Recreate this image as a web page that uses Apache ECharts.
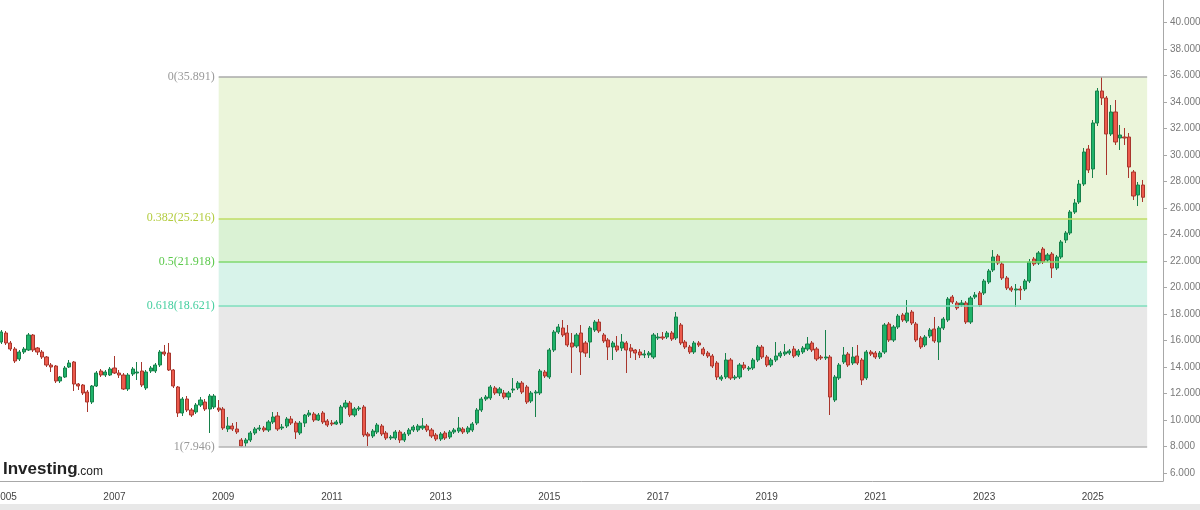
<!DOCTYPE html>
<html>
<head>
<meta charset="utf-8">
<script src="https://cdn.jsdelivr.net/npm/echarts@6/dist/echarts.min.js"></script>
<style>
  html, body { margin: 0; padding: 0; background: #fff; }
  #main { width: 1200px; height: 510px; }
</style>
</head>
<body>
<div id="main"></div>
<script>
// monthly candles, Dec 2004 .. Dec 2025
var open = [15876,16556,15801,15347,14592,15121,15272,16405,15423,15121,14743,14139,14063,12930,13232,13988,14365,12704,12628,12099,
  11344,12553,13686,13383,13383,13912,13535,13383,12326,13459,13535,13686,12401,13686,13686,14139,15121,15045,13761,12477,
  10513,11570,10740,10589,11117,11344,10815,10966,10891,10815,9305,9531,9305,8474,8248,8474,9003,9305,9380,9229,
  9833,10287,9380,9531,10060,9758,9003,9758,10362,10438,9984,10513,9909,9758,9682,9758,10966,11268,10362,10815,
  10966,8927,8776,9078,9531,9003,8625,8625,9078,8474,8927,9229,9229,9380,9531,9229,8852,8550,9003,8701,
  9078,9154,9305,9078,9229,9758,10740,11570,11646,12401,12024,12024,11722,12250,12401,12779,12477,11419,12024,12024,
  13610,13232,15272,16631,16934,16556,15801,15574,16556,15801,15876,16782,17386,16405,16027,15498,15574,15423,15801,15423,
  15272,15121,14894,14894,14743,16178,16254,16254,16556,16178,17160,15876,15498,15121,15801,15347,15045,14819,14290,13081,
  13232,14516,13157,13232,14139,13837,13912,14516,15498,14743,14139,14516,14819,14970,15045,15347,14894,15121,15347,15801,
  15347,14743,14668,14743,11495,13157,14365,14970,14290,14819,14516,13157,15121,15045,14743,15121,17235,16027,17009,17916,
  17462,18142,17235,16178,15650,16329,16858,15876,16934,17537,19275,18822,18671,18822,17386,19275,19577,19577,20408,21314,
  22371,21767,20710,19954,19803,19879,19879,20483,22145,21843,22900,22069,22522,21465,22296,23580,24109,25695,26450,27809,
  30453,28943,32417,34834,34305,31586,33248,31284,31359,31359,28716,26980,27734];
var close = [16631,15801,15347,14441,15121,15347,16405,15272,15121,14743,14139,13988,12930,13232,13912,14290,12704,12553,12024,11344,
  12553,13535,13383,13610,13837,13535,13383,12326,13383,13837,13610,12628,13610,13912,14139,15121,14970,13761,12553,10513,
  11570,10740,10362,11117,11495,10815,11797,11797,10740,9380,9531,9305,9078,8021,8474,9003,9305,9380,9229,9833,
  10211,9305,9456,10060,9758,9078,9758,10362,10513,9984,10362,9833,9607,9682,9833,10966,11268,10362,10815,10891,
  8852,8776,9154,9607,8927,8625,8701,9078,8474,8927,9229,9456,9531,9531,9229,8776,8550,8927,8625,9078,
  9229,9380,9078,9380,9682,10740,11570,11722,12477,12024,12326,11722,12024,12326,12779,12099,11344,12024,12099,13686,
  13308,15272,16631,17009,16405,15650,15498,16405,15121,15045,16934,17386,16707,15952,15498,15801,15272,15876,15272,15196,
  15045,14894,14970,15045,16405,16254,16178,16556,16103,17765,15801,15498,15121,15801,15650,14970,14819,14063,13232,13232,
  14516,13157,13232,14139,13912,13912,14516,15498,14743,14139,14516,14819,15045,15121,15196,14819,15196,15423,15725,15272,
  14592,14668,14743,11722,13232,14139,14894,14139,14743,14290,13006,15121,14970,14743,15045,17160,16027,17009,17840,17537,
  18067,17311,16027,15498,16254,16782,15952,16934,17614,19124,18897,18444,18822,17386,19199,19426,18671,20483,21239,22296,
  21843,20710,19954,19803,19879,19803,20483,21918,21767,22598,21918,22447,21465,22296,23430,24109,25695,26375,27809,30227,
  28867,32417,34834,34305,31586,33248,30982,31510,31284,29094,26904,27734,26810];
var low = [15725,15650,15196,14290,14441,14970,15196,15121,14894,14592,13988,13610,12779,12779,13157,13912,12175,12250,11873,10589,
  11193,12477,13232,13232,13308,13459,13157,12250,12175,13308,13006,12477,12250,13535,13535,13988,14819,13686,12401,10211,
  10287,10589,10211,10438,10966,10664,9003,10815,10589,9229,9078,9154,8927,7960,7946,8323,8852,9154,9078,9078,
  9682,9154,9229,9380,9607,8550,8852,9456,10211,9833,9909,9682,9456,9531,9607,9607,10815,10211,10211,10664,
  8701,8021,8625,8927,8776,8474,8474,8474,8248,8323,8776,9078,9078,9229,9078,8625,8399,8399,8474,8550,
  8927,9003,8927,8927,9078,9607,10589,11419,11495,11873,11797,11570,11495,12024,12250,11948,11193,11268,10211,11873,
  13157,13081,15121,16480,16254,15498,13535,15423,13383,14743,14668,16631,16556,15801,14516,14516,15121,15196,13535,14668,
  14516,14668,14668,14668,14592,16027,16027,16103,15952,16027,15650,15347,14970,14970,15498,14819,14668,13912,13006,12930,
  13081,13006,13006,13081,13761,13686,13761,14365,14592,13988,13988,14365,14668,14819,14894,14668,14743,14970,15196,15121,
  14441,14516,14516,10362,11344,13006,14214,13988,14139,14139,12628,13006,14819,14592,14592,14970,15876,15876,16858,17386,
  17311,17160,15876,15347,15498,16178,15801,14516,16782,17386,18746,18294,18519,17235,17235,19124,18519,19426,20257,21163,
  21692,20559,19803,19652,18519,19049,19728,20332,21616,21692,21767,21918,20710,21314,22145,23354,23958,25544,26299,27658,
  28640,28263,32190,33776,28490,31435,30755,30378,30755,28263,26601,26148,26450];
var high = [16782,16707,15952,15498,15272,15498,16556,16480,15498,15272,14819,14290,14139,13308,14063,14516,14441,12779,12704,12250,
  12628,13686,13837,13761,13988,14819,13761,13535,13535,13988,14365,14365,13761,14063,14290,15272,15650,15801,13837,12553,
  11722,11797,10891,11268,11722,11570,11948,11948,11495,10966,10211,9758,9833,8625,8625,9154,9456,9607,9531,9984,
  10589,10589,9682,10211,10287,9909,9909,10438,10740,10589,10513,10664,10060,9984,9984,11117,11495,11419,10966,11042,
  11117,9078,9305,9758,9682,9154,8852,9229,9229,9078,9380,9607,9682,10135,9682,9380,9003,9078,9154,9229,
  9380,10211,9456,9531,9833,10891,11722,11873,12628,12553,12477,12250,12175,13157,12930,12930,12628,12175,12250,13837,
  13761,15423,16782,17235,17537,17160,16556,16556,17160,15952,17084,17537,17614,16556,16178,15952,16329,16480,15952,15725,
  15347,15347,15272,15196,16556,16556,16631,16707,16707,18142,17311,16027,15650,15952,15952,15498,15196,14970,14441,13383,
  15045,14668,13383,14290,14365,14063,14668,15650,15650,14894,14668,15876,15196,15725,15347,15574,15347,15574,16254,15952,
  15498,14894,16782,14894,13383,14290,15498,15121,15498,15650,14668,15272,15272,15196,15196,17311,17386,17160,17991,18067,
  19049,18294,17386,16329,16405,16934,17765,17084,17765,19275,19426,18973,19049,18973,19350,19652,19728,20634,21390,22824,
  22522,21918,20861,20106,20257,20106,20634,22145,22296,22749,23051,22598,22673,22447,23580,24260,25846,26677,28112,30529,
  30755,32643,35060,35891,34456,33776,34154,32266,32039,31661,28867,27960,28112];

var yTicks = [6000,8000,10000,12000,14000,16000,18000,20000,22000,24000,26000,28000,30000,32000,34000,36000,38000,40000];
var fibRatios = ['0', '0.382', '0.5', '0.618', '1'];
var fibValues = [35891, 25216, 21918, 18621, 7946];
var fibLineColors = ['#aaaaaa', '#c2dd63', '#80d86f', '#7cdfbc', '#b3b3b3'];
var fibTextColors = ['#999999', '#b3cc3f', '#5bc94b', '#45cf9f', '#999999'];
var fibFills = ['#ebf5da', '#daf2d4', '#d8f3ea', '#e8e8e8'];
var lastPrice = 26810;

// month categories, plus a few empty months on the right
var months = [];
for (var y = 2004; y <= 2026; y++) {
  for (var m = 1; m <= 12; m++) {
    if (y === 2004 && m < 12) continue;
    if (y === 2026 && m > 4) break;
    months.push(y + '-' + (m < 10 ? '0' + m : m));
  }
}
var fibFrom = '2008-12', fibTo = '2026-01';

var candles = open.map(function (o, i) { return [o, close[i], low[i], high[i]]; });

function dotted(v) {
  return String(v).replace(/\B(?=(\d{3})+(?!\d))/g, '.');
}
function oddYearStart(idx, val) {
  return val.slice(5) === '01' && (+val.slice(0, 4)) % 2 === 1;
}

var areas = [];
for (var k = 0; k < fibFills.length; k++) {
  areas.push([
    { xAxis: fibFrom, yAxis: fibValues[k], itemStyle: { color: fibFills[k] } },
    { xAxis: fibTo, yAxis: fibValues[k + 1] }
  ]);
}
var lines = fibValues.map(function (v, k) {
  return [
    { coord: [fibFrom, v], lineStyle: { color: fibLineColors[k], width: 1.5, type: 'solid' },
      label: { color: fibTextColors[k], formatter: fibRatios[k] + '(' + dotted(v) + ')' } },
    { coord: [fibTo, v] }
  ];
});

var chart = echarts.init(document.getElementById('main'));
var option = {
  animation: false,
  backgroundColor: '#fff',
  grid: { left: -1, right: 37, top: 0, bottom: 29, containLabel: false, outerBoundsMode: 'none' },
  xAxis: {
    type: 'category',
    data: months,
    boundaryGap: true,
    axisLine: { lineStyle: { color: '#a8a8a8' } },
    axisTick: { interval: oddYearStart, alignWithLabel: true, length: 4, lineStyle: { color: '#a8a8a8' } },
    axisLabel: {
      interval: oddYearStart,
      formatter: function (v) { return v.slice(0, 4); },
      color: '#444', fontSize: 10, fontFamily: 'Liberation Sans, Arial', margin: 11
    },
    splitLine: { show: false }
  },
  yAxis: {
    type: 'value',
    position: 'right',
    min: 5378,
    max: 41707,
    splitLine: { show: false },
    axisLine: { show: true, lineStyle: { color: '#a8a8a8' } },
    axisTick: { show: true, customValues: yTicks, length: 4, lineStyle: { color: '#a8a8a8' } },
    axisLabel: {
      customValues: yTicks,
      formatter: dotted,
      color: '#7a7a7a', fontSize: 10, fontFamily: 'Liberation Sans, Arial', margin: 7
    }
  },
  series: [
    {
      name: 'fib',
      type: 'line',
      data: [],
      z: 1,
      silent: true,
      markArea: { silent: true, data: areas },
      markLine: {
        silent: true,
        symbol: 'none',
        label: { position: 'start', fontFamily: 'Liberation Serif, serif', fontSize: 12, distance: 4 },
        data: lines
      }
    },
    {
      name: 'price',
      type: 'candlestick',
      data: candles,
      z: 3,
      barWidth: '80%',
      itemStyle: {
        color: '#1fb36a',
        color0: '#ec5a4c',
        borderColor: '#17804a',
        borderColor0: '#a8362d',
        borderWidth: 1
      },
      markLine: {
        silent: true,
        symbol: 'none',
        lineStyle: { opacity: 0 },
        label: {
          position: 'end', distance: 1,
          formatter: dotted(lastPrice),
          backgroundColor: '#3f6ad8', color: '#fff',
          padding: [2, 3, 1, 3], fontSize: 10, fontFamily: 'Liberation Sans, Arial'
        },
        data: [{ yAxis: lastPrice }]
      }
    }
  ],
  graphic: [
    { type: 'rect', left: 0, bottom: 0, shape: { width: 1200, height: 6 }, style: { fill: '#e8e8e8' }, silent: true },
    { type: 'text', left: 3, top: 461, style: { text: 'Investing', font: 'bold 17px Liberation Sans, Arial', fill: '#222' } },
    { type: 'text', left: 77, top: 466, style: { text: '.com', font: '12px Liberation Sans, Arial', fill: '#222' } }
  ]
};
chart.setOption(option);
</script>
</body>
</html>
